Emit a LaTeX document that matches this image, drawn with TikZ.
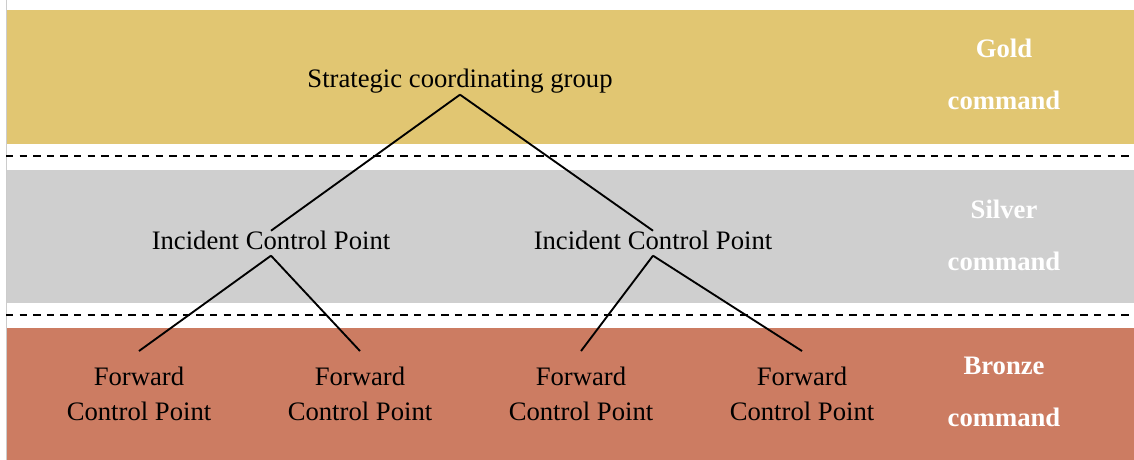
\documentclass[tikz,border=0pt]{standalone}
\usepackage{fontspec}
\setmainfont{Liberation Serif}
\definecolor{gold}{HTML}{E1C672}
\definecolor{silver}{HTML}{CFCFCF}
\definecolor{bronze}{HTML}{CC7C62}
\begin{document}
\begin{tikzpicture}[x=0.75pt, y=-0.75pt, line width=1.4pt,
		group/.style = {font=\fontsize{20pt}{26pt}\selectfont, text height=1.3em, text depth=0.43em, inner ysep=0pt},
		fwd/.style = {font=\fontsize{20pt}{26.5pt}\selectfont, align=center, inner ysep=11.25pt},
		level/.style = {font=\fontsize{20pt}{39pt}\selectfont\bfseries, text=white, align=center},
		sep/.style = {line width=1.5pt, dash pattern=on 5.6pt off 4.6pt}]

		\useasboundingbox (0,0) rectangle (1134,460);
		\fill[gold] (6,10) rectangle (1134,144);
		\fill[silver] (6,170) rectangle (1134,303);
		\fill[bronze] (6,328) rectangle (1134,460);
		\draw[gray!40, line width=0.6pt] (6,0) -- (6,460);

		\coordinate (s1a) at (6,156);
		\coordinate (s1b) at (1134,156);
		\coordinate (s2a) at (6,315);
		\coordinate (s2b) at (1134,315);
		\draw[sep] (s1a) -- (s1b);
		\draw[sep] (s2a) -- (s2b);

		\node[group, anchor=base] (scg) at (460,88) {Strategic coordinating group};
		\node[group, anchor=base] (icp1) at (271,249) {Incident Control Point};
		\node[group, anchor=base] (icp2) at (653,249) {Incident Control Point};
		\node[fwd] (fcp1) at (139,394) {Forward\\Control Point};
		\node[fwd] (fcp2) at (360,394) {Forward\\Control Point};
		\node[fwd] (fcp3) at (581,394) {Forward\\Control Point};
		\node[fwd] (fcp4) at (802,394) {Forward\\Control Point};

		\node[level] (gold) at (1004,74) {Gold\\command};
		\node[level] (silver) at (1004,235) {Silver\\command};
		\node[level] (bronze) at (1004,392) {Bronze\\command};

		\draw (scg.south) -- (icp1.north);
		\draw (scg.south) -- (icp2.north);
		\draw (icp1.south) -- (fcp1.north);
		\draw (icp1.south) -- (fcp2.north);
		\draw (icp2.south) -- (fcp3.north);
		\draw (icp2.south) -- (fcp4.north);
	\end{tikzpicture}
\end{document}
